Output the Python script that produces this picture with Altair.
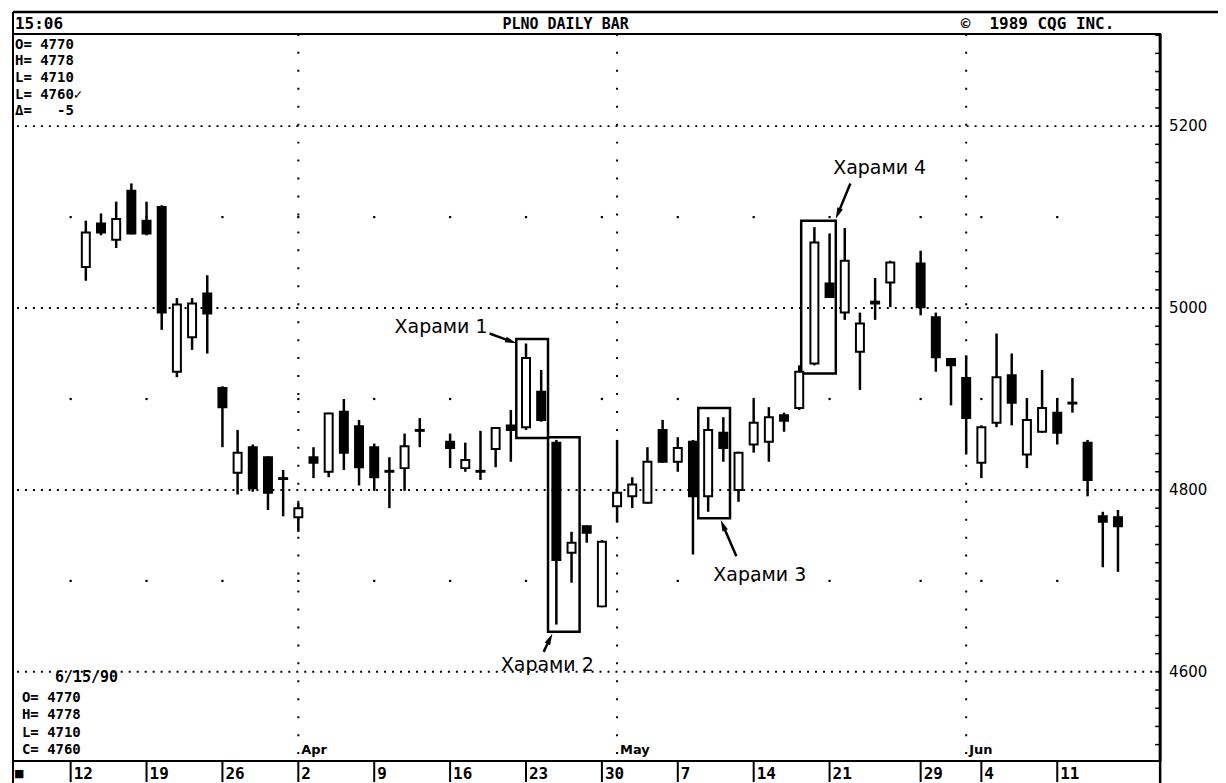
import math
import altair as alt
import pandas as pd

MONO = "DejaVu Sans Mono"
SANS = "DejaVu Sans"
NB = "\u00a0"

# ---- data: trading-day slot (weekdays counted from Mon 12 Mar 1990 = 0) ----
day = [1, 2, 3, 4, 5, 6, 7, 8, 9, 10, 11, 12, 13, 14, 15, 16, 17, 18, 19, 20, 21, 22, 23,
       25, 26, 27, 28, 29, 30, 31, 32, 33, 34, 35, 36, 37, 38, 39, 40, 41, 42, 43, 44, 45,
       46, 47, 48, 49, 50, 51, 52, 53, 54,
       56, 57, 58, 59, 60, 61, 62, 63, 64, 65, 66, 67, 68, 69]
opens = [5045, 5093, 5075, 5129, 5096, 5111, 4930, 4968, 5016, 4912, 4819, 4847, 4836, 4813, 4770,
         4836, 4820, 4886, 4870, 4847, 4821, 4824, 4866,
         4853, 4824, 4821, 4845, 4871, 4869, 4908, 4852, 4731, 4760, 4672, 4782, 4793, 4786, 4866,
         4831, 4853, 4793, 4863, 4800, 4850, 4853, 4882, 4890, 4939, 5027, 4995, 4952, 5005, 5028,
         5049, 4990, 4944, 4923, 4830, 4874, 4926, 4839, 4864, 4885, 4896, 4852, 4771, 4770]
highs = [5096, 5104, 5117, 5137, 5117, 5113, 5011, 5011, 5036, 4914, 4866, 4850, 4837, 4822, 4786,
         4847, 4885, 4900, 4877, 4851, 4836, 4862, 4879,
         4862, 4852, 4865, 4869, 4888, 4961, 4932, 4855, 4754, 4761, 4745, 4855, 4814, 4847, 4877,
         4858, 4855, 4880, 4880, 4842, 4899, 4891, 4885, 4937, 5089, 5082, 5088, 4995, 5033, 5052,
         5063, 4995, 4945, 4948, 4871, 4972, 4950, 4901, 4932, 4901, 4923, 4855, 4776, 4778]
lows = [5030, 5080, 5066, 5081, 5080, 4976, 4924, 4954, 4950, 4847, 4795, 4798, 4778, 4771, 4754,
        4813, 4814, 4822, 4805, 4799, 4780, 4799, 4847,
        4824, 4820, 4811, 4825, 4831, 4866, 4875, 4652, 4698, 4742, 4671, 4764, 4780, 4785, 4830,
        4820, 4729, 4776, 4831, 4787, 4841, 4831, 4864, 4888, 4937, 5011, 4987, 4910, 4987, 5001,
        4992, 4930, 4893, 4839, 4813, 4869, 4871, 4824, 4863, 4850, 4885, 4793, 4715, 4710]
closes = [5083, 5083, 5098, 5082, 5082, 4995, 5004, 5005, 4994, 4891, 4841, 4802, 4797, 4812, 4780,
          4830, 4884, 4841, 4825, 4814, 4820, 4848, 4865,
          4846, 4833, 4820, 4868, 4866, 4945, 4877, 4723, 4742, 4753, 4743, 4797, 4806, 4831, 4831,
          4846, 4793, 4866, 4846, 4841, 4874, 4880, 4876, 4930, 5072, 5012, 5052, 4983, 5007, 5050,
          5001, 4946, 4937, 4879, 4869, 4924, 4896, 4877, 4890, 4863, 4895, 4811, 4765, 4760]

# week starts (first trading day of each week) and their labels
week_day = [0, 5, 10, 15, 20, 25, 30, 35, 40, 45, 50, 56, 60, 65]
week_label = ["12", "19", "26", "2", "9", "16", "23", "30", "7", "14", "21", "29", "4", "11"]
# first trading day of each month
month_day = [15, 36, 59]
month_label = ["Apr", "May", "Jun"]
# price grid
major_levels = [4600, 4800, 5000, 5200]
minor_levels = [4700, 4900, 5100]
tick_levels = list(range(4520, 5301, 20))

# Harami annotations
harami_text = ["Харами 1", "Харами 2", "Харами 3", "Харами 4"]
harami_text_day = [24.4, 31.4, 45.4, 53.3]
harami_text_price = [4979, 4608, 4706, 5154]
box_day1 = [29.36, 31.45, 41.35, 48.13]
box_day2 = [31.45, 33.53, 43.44, 50.41]
box_lo = [4857, 4644, 4769, 4928]
box_hi = [4966, 4858, 4890, 5096]
arrow_day1 = [27.6, 31.16, 43.86, 51.37]
arrow_p1 = [4972, 4622, 4727, 5137]
arrow_day2 = [29.24, 31.68, 42.88, 50.46]
arrow_p2 = [4962, 4640, 4765, 5100]

# info boxes
info_top = ["O= 4770", "H= 4778", "L= 4710", "L= 4760✓", "Δ=" + NB * 3 + "-5"]
info_bottom = ["O= 4770", "H= 4778", "L= 4710", "C= 4760"]

# ---- layout ----
W, H = 1150, 729
XDOM = [-3.47, 71.45]
YDOM = [4501.9, 5301.4]
xs = alt.Scale(domain=XDOM, nice=False, zero=False)
ys = alt.Scale(domain=YDOM, nice=False, zero=False)
PX_I = W / (XDOM[1] - XDOM[0])
PX_P = H / (YDOM[1] - YDOM[0])

df = pd.DataFrame({"d": day, "open": opens, "high": highs, "low": lows, "close": closes})
df["dir"] = ["up" if c > o else "down" for o, c in zip(opens, closes)]

one = pd.DataFrame({"k": [0]})

X = lambda f: alt.X(f, type="quantitative", scale=xs, axis=None)
Y = lambda f: alt.Y(f, type="quantitative", scale=ys, axis=None)

layers = []

# grid: dotted major lines, vertical month lines, sparse weekly dots
layers.append(alt.Chart(pd.DataFrame({"p": major_levels})).mark_rule(
    color="black", strokeWidth=2, strokeDash=[2, 6]).encode(y=Y("p")))
layers.append(alt.Chart(pd.DataFrame({"d": month_day})).mark_rule(
    color="black", strokeWidth=2, strokeDash=[2, 16]).encode(x=X("d")))
dots = pd.DataFrame([(d, p) for d in week_day for p in minor_levels], columns=["d", "p"])
layers.append(alt.Chart(dots).mark_square(size=5, color="black", opacity=1).encode(x=X("d"), y=Y("p")))

# right border ticks and labels
layers.append(alt.Chart(pd.DataFrame({"p": tick_levels})).mark_rule(color="black", strokeWidth=1.5).encode(
    y=Y("p"), x=alt.value(W - 5), x2=alt.value(W)))
layers.append(alt.Chart(pd.DataFrame({"p": major_levels, "t": [str(v) for v in major_levels]})).mark_text(
    font=SANS, fontSize=15, align="left", baseline="middle", color="black").encode(
    y=Y("p"), x=alt.value(W + 9), text="t:N"))

# Harami boxes
bx = pd.DataFrame({"d1": box_day1, "d2": box_day2, "lo": box_lo, "hi": box_hi})
layers.append(alt.Chart(bx).mark_rect(fillOpacity=0, stroke="black", strokeWidth=2.5).encode(
    x=X("d1"), x2="d2", y=Y("lo"), y2="hi"))

# candles
layers.append(alt.Chart(df).mark_rule(color="black", strokeWidth=2.5).encode(
    x=X("d"), y=Y("low"), y2="high"))
layers.append(alt.Chart(df).mark_bar(size=8, stroke="black", strokeWidth=2).encode(
    x=X("d"), y=Y("open"), y2="close",
    fill=alt.Fill("dir:N", scale=alt.Scale(domain=["up", "down"], range=["white", "black"]), legend=None)))

# arrows
ar = pd.DataFrame({"d1": arrow_day1, "p1": arrow_p1, "d2": arrow_day2, "p2": arrow_p2})
ang, hx, hy = [], [], []
for d1, p1, d2, p2 in zip(arrow_day1, arrow_p1, arrow_day2, arrow_p2):
    dxp = (d2 - d1) * PX_I
    dyp = -(p2 - p1) * PX_P
    ang.append(math.degrees(math.atan2(dxp, -dyp)) % 360)
    L = math.hypot(dxp, dyp)
    back = 4.0 / L
    hx.append(d2 - (d2 - d1) * back)
    hy.append(p2 - (p2 - p1) * back)
ar["ang"] = ang
ar["hx"] = hx
ar["hy"] = hy
layers.append(alt.Chart(ar).mark_rule(color="black", strokeWidth=2.5).encode(
    x=X("d1"), y=Y("p1"), x2="hx", y2="hy"))
layers.append(alt.Chart(ar).mark_point(shape="M0,-1L0.5,0.9L-0.5,0.9Z", size=140, filled=True,
                                       color="black", opacity=1).encode(
    x=X("hx"), y=Y("hy"), angle=alt.Angle("ang:Q", scale=None)))

# Harami labels
ht = pd.DataFrame({"t": harami_text, "d": harami_text_day, "p": harami_text_price})
layers.append(alt.Chart(ht).mark_text(font=SANS, fontSize=19, align="center", baseline="middle",
                                      color="black").encode(x=X("d"), y=Y("p"), text="t:N"))

# month labels
mt = pd.DataFrame({"d": month_day, "t": month_label})
layers.append(alt.Chart(mt).mark_text(font=SANS, fontSize=13, fontWeight="bold", align="left",
                                      baseline="middle", dx=3, color="black").encode(
    x=X("d"), y=alt.value(H - 11), text="t:N"))

# bottom date row: ticks and labels
wk = pd.DataFrame({"d": week_day, "t": week_label})
layers.append(alt.Chart(wk).mark_rule(color="black", strokeWidth=2).encode(
    x=X("d"), y=alt.value(H), y2=alt.value(H + 21)))
layers.append(alt.Chart(wk).mark_text(font=MONO, fontSize=16, fontWeight="bold", align="left",
                                      baseline="middle", dx=3, color="black").encode(
    x=X("d"), y=alt.value(H + 13), text="t:N"))


def txt(s, x, y, size=16, font=MONO, weight="bold", align="left"):
    return alt.Chart(one).mark_text(text=s, font=font, fontSize=size, fontWeight=weight, align=align,
                                    baseline="middle", color="black").encode(x=alt.value(x), y=alt.value(y))


def line(x, y, x2, y2, w=2):
    return alt.Chart(one).mark_rule(color="black", strokeWidth=w).encode(
        x=alt.value(x), y=alt.value(y), x2=alt.value(x2), y2=alt.value(y2))


# frame pieces outside the plot area
layers.append(line(0, -22, W + 60, -22, 2.5))
layers.append(line(0, -22, 0, 0, 2))
layers.append(line(0, H, 0, H + 22, 2))
layers.append(line(W, H, W, H + 22, 2.5))
layers.append(line(W, 0, W, H, 3))

# header
layers.append(txt("15:06", 2, -10))
layers.append(txt("PLNO DAILY BAR", 554, -10, size=15, align="center"))
layers.append(txt("©" + NB + NB + "1989 CQG INC.", 950, -10))

# top-left info box
for k, s in enumerate(info_top):
    layers.append(txt(s, 2, 11 + 16.6 * k, size=14))

# bottom-left info box
layers.append(txt("6/15/90", 42, 645, size=15))
for k, s in enumerate(info_bottom):
    layers.append(txt(s, 9, 666 + 17.3 * k, size=14))
layers.append(txt("■", 2, H + 13, size=14))

chart = alt.layer(*layers).properties(
    width=W, height=H,
    autosize=alt.AutoSizeParams(type="none"),
    padding={"left": 5, "top": 25, "right": 58, "bottom": 21},
    background="white",
).configure_view(stroke="black", strokeWidth=2)

chart.save("out.html", embed_options={"renderer": "svg", "actions": False})
